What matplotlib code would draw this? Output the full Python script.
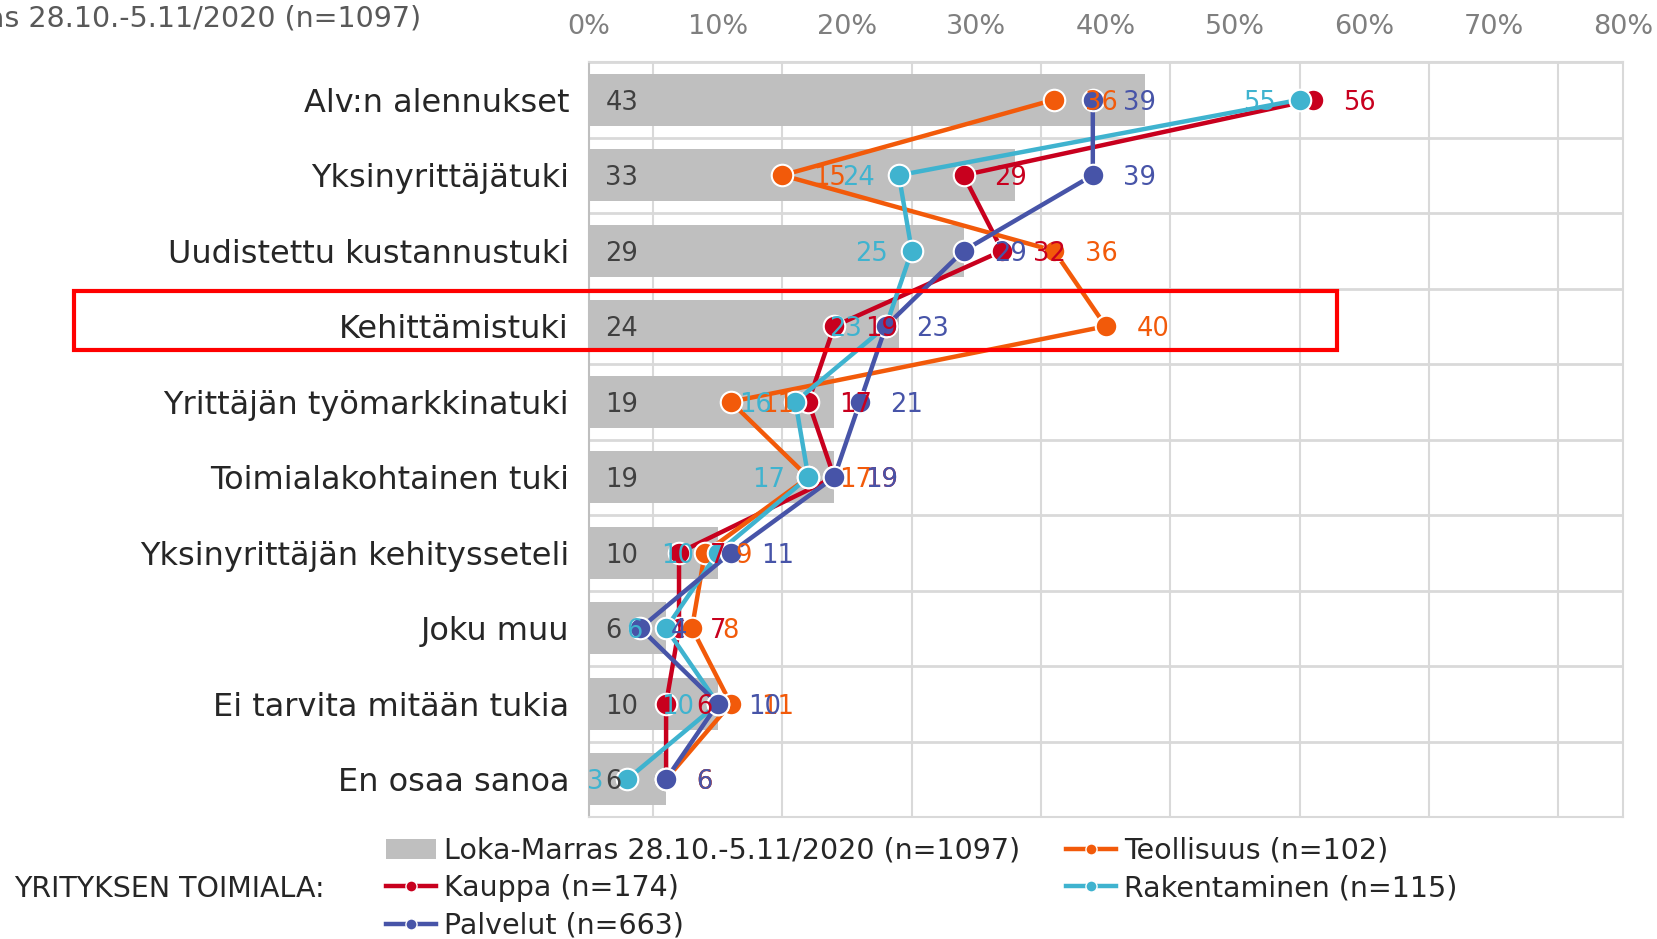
import numpy as np
import matplotlib
matplotlib.use('Agg')
import matplotlib.pyplot as plt
import matplotlib.transforms as mtransforms
from matplotlib.patches import Rectangle, Patch
from matplotlib.lines import Line2D

# Data (percent)
categories = ['Alv:n alennukset', 'Yksinyrittäjätuki', 'Uudistettu kustannustuki',
              'Kehittämistuki', 'Yrittäjän työmarkkinatuki', 'Toimialakohtainen tuki',
              'Yksinyrittäjän kehitysseteli', 'Joku muu', 'Ei tarvita mitään tukia',
              'En osaa sanoa']
total = [43, 33, 29, 24, 19, 19, 10, 6, 10, 6]
teollisuus = [36, 15, 36, 40, 11, 17, 9, 8, 11, 6]
kauppa = [56, 29, 32, 19, 17, 19, 7, 7, 6, 6]
rakentaminen = [55, 24, 25, 23, 16, 17, 10, 6, 10, 3]
palvelut = [39, 39, 29, 23, 21, 19, 11, 4, 10, 6]

total_label = 'Loka-Marras 28.10.-5.11/2020 (n=1097)'
highlight = 'Kehittämistuki'

# name, values, colour, label side
series = [
    ('Kauppa (n=174)', kauppa, '#c8001e', 'right'),
    ('Teollisuus (n=102)', teollisuus, '#f25a0a', 'right'),
    ('Rakentaminen (n=115)', rakentaminen, '#3fb3cf', 'left'),
    ('Palvelut (n=663)', palvelut, '#4754a8', 'right'),
]

W, H = 1657, 939
fig = plt.figure(figsize=(W / 100, H / 100), dpi=100)
ax = fig.add_axes([588.5 / W, 1 - 817 / H, (1623 - 588.5) / W, (817 - 62) / H])

y = np.arange(len(categories))

# Total bars
ax.barh(y, total, height=0.69, color='#bfbfbf', zorder=2)
for yi, v in zip(y, total):
    ax.text(1.3, yi, str(v), ha='left', va='center_baseline', fontsize=18.5,
            color='#404040', zorder=10)

# Sector lines
for i, (name, vals, col, side) in enumerate(series):
    ax.plot(vals, y, color=col, lw=3.2, marker='o', markersize=15.5,
            markerfacecolor=col, markeredgecolor='white', markeredgewidth=1.5, zorder=4 + i)
    for yi, v in zip(y, vals):
        if side == 'right':
            ax.annotate(str(v), (v, yi), xytext=(22, 0), textcoords='offset points',
                        ha='left', va='center_baseline', fontsize=18.5, color=col, zorder=10)
        else:
            ax.annotate(str(v), (v, yi), xytext=(-17, 0), textcoords='offset points',
                        ha='right', va='center_baseline', fontsize=18.5, color=col, zorder=10)

# Axes styling
ax.set_xlim(0, 80)
ax.set_ylim(len(categories) - 0.5, -0.5)
ax.set_xticks(np.arange(0, 81, 10))
ax.set_xticklabels([f'{t}%' for t in range(0, 81, 10)])
ax.set_xticks(np.arange(0, 81, 5), minor=True)
ax.set_yticks(y)
ax.set_yticklabels(categories)
ax.set_yticks(np.arange(-0.5, len(categories), 1), minor=True)
ax.tick_params(axis='x', which='both', top=True, labeltop=True, bottom=False,
               labelbottom=False, length=0, pad=16, labelsize=19.5, labelcolor='#7f7f7f')
ax.tick_params(axis='y', which='both', length=0, pad=14, labelsize=23, labelcolor='#262626')
ax.grid(which='minor', axis='x', color='#d9d9d9', lw=1.5)
ax.grid(which='minor', axis='y', color='#d9d9d9', lw=2)
ax.grid(which='major', visible=False)
ax.set_axisbelow(True)
for s in ['top', 'right', 'bottom']:
    ax.spines[s].set_color('#d9d9d9')
    ax.spines[s].set_linewidth(1.5)
ax.spines['left'].set_color('#bfbfbf')
ax.spines['left'].set_linewidth(1.5)

# Highlight frame around one category
hi = categories.index(highlight)
trans = mtransforms.blended_transform_factory(fig.transFigure, ax.transData)
ax.add_patch(Rectangle((74 / W, hi - 0.47), (1337 - 74) / W, 0.79, transform=trans,
                       fill=False, edgecolor='#ff0000', lw=3, clip_on=False, zorder=20))

# Cropped header text
fig.text(421 / W, 1 - 18 / H, total_label, ha='right', va='center', fontsize=20.5, color='#595959')

# Legend
handles = [Patch(facecolor='#bfbfbf', edgecolor='none')]
labels = [total_label]
order = [0, 3, 1, 2]
for idx in order:
    name, vals, col, side = series[idx]
    handles.append(Line2D([], [], color=col, lw=3.2, marker='o', markersize=8,
                          markerfacecolor=col, markeredgecolor='white', markeredgewidth=1))
    labels.append(name)
fig.legend(handles, labels, loc='upper left', bbox_to_anchor=(386 / W, 1 - 837 / H), ncol=2,
           frameon=False, fontsize=20.5, handlelength=1.75, handletextpad=0.3,
           columnspacing=1.6, labelspacing=0.33, borderpad=0, borderaxespad=0,
           labelcolor='#262626')
fig.text(14 / W, 1 - 889 / H, 'YRITYKSEN TOIMIALA:', ha='left', va='center',
         fontsize=20.5, color='#262626')

fig.savefig('out.png', dpi=100)
